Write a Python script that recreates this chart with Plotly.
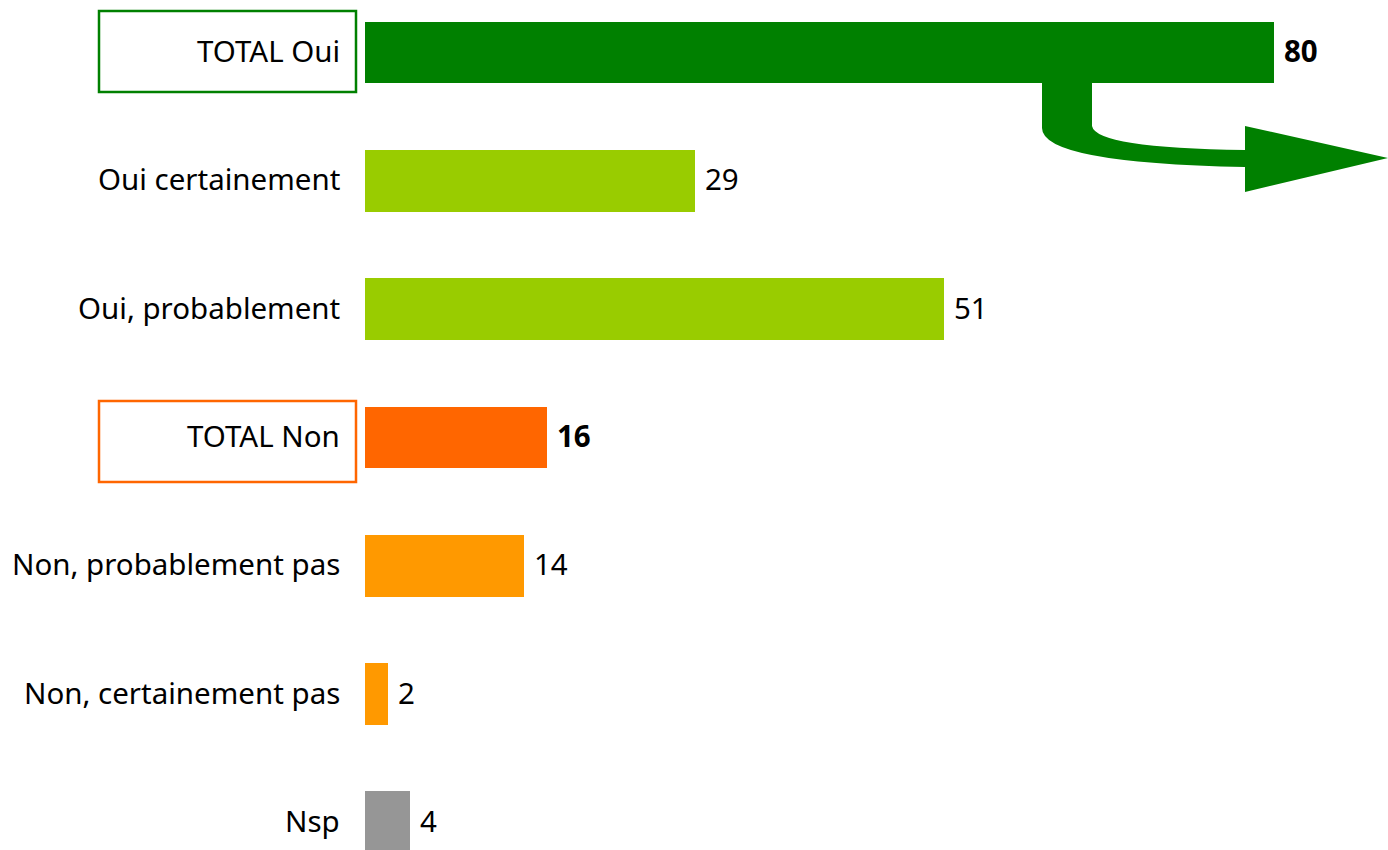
import plotly.graph_objects as go

categories = ["TOTAL Oui", "Oui certainement", "Oui, probablement", "TOTAL Non",
              "Non, probablement pas", "Non, certainement pas", "Nsp"]
values = [80, 29, 51, 16, 14, 2, 4]
colors = ["#008000", "#99CC00", "#99CC00", "#FF6600", "#FF9900", "#FF9900", "#969696"]
bold = [True, False, False, True, False, False, False]

W, H = 1388, 850
L = 365
FONT = "Noto Sans"
FS = 29.5

def px(x):
    return (x - L) / (W - L)

def py(y):
    return 1 - y / H

idx = list(range(len(categories)))
fig = go.Figure()
fig.add_trace(go.Bar(
    x=values, y=idx, orientation="h", marker=dict(color=colors, line=dict(width=0)),
    width=0.483, hoverinfo="skip",
))

# value labels
for i, (v, b) in enumerate(zip(values, bold)):
    fig.add_annotation(x=v, xref="x", y=i, yref="y",
                       text=f"<b>{v}</b>" if b else str(v),
                       showarrow=False, xanchor="left", yanchor="middle",
                       xshift=8, yshift=2,
                       font=dict(family=FONT, size=FS, color="black"))

# category labels
for i, c in enumerate(categories):
    fig.add_annotation(x=px(342), xref="paper", y=i, yref="y", text=c,
                       showarrow=False, xanchor="right", yanchor="middle", yshift=2,
                       font=dict(family=FONT, size=FS, color="black"))

# boxes around totals
fig.add_shape(type="rect", xref="paper", yref="paper", x0=px(99), x1=px(356),
              y0=py(92), y1=py(11), line=dict(color="#008000", width=2.5))
fig.add_shape(type="rect", xref="paper", yref="paper", x0=px(99), x1=px(356),
              y0=py(482), y1=py(401), line=dict(color="#FF6600", width=2.5))

# curved arrow
pts = (f"M {px(1042)},{py(83)} L {px(1092)},{py(83)} L {px(1092)},{py(126)} "
       f"Q {px(1096)},{py(148)} {px(1245)},{py(150)} L {px(1245)},{py(126)} "
       f"L {px(1388)},{py(158)} L {px(1245)},{py(192)} L {px(1245)},{py(167)} "
       f"Q {px(1042)},{py(163)} {px(1042)},{py(128)} Z")
fig.add_shape(type="path", xref="paper", yref="paper", path=pts,
              fillcolor="#008000", line=dict(width=0))

scale = (1274 - L) / 80.0
xmax = (W - L) / scale
y_top = -52.5 / 128.33
y_bot = (H - 52.5) / 128.33

fig.update_layout(
    width=W, height=H, margin=dict(l=L, r=0, t=0, b=0),
    paper_bgcolor="white", plot_bgcolor="white", showlegend=False,
    bargap=0,
    xaxis=dict(range=[0, xmax], visible=False, fixedrange=True),
    yaxis=dict(range=[y_bot, y_top], visible=False, fixedrange=True),
    font=dict(family=FONT, size=FS),
)
fig.write_html("out.html", config={"displayModeBar": False},
               post_script="document.body.style.margin='0';")
